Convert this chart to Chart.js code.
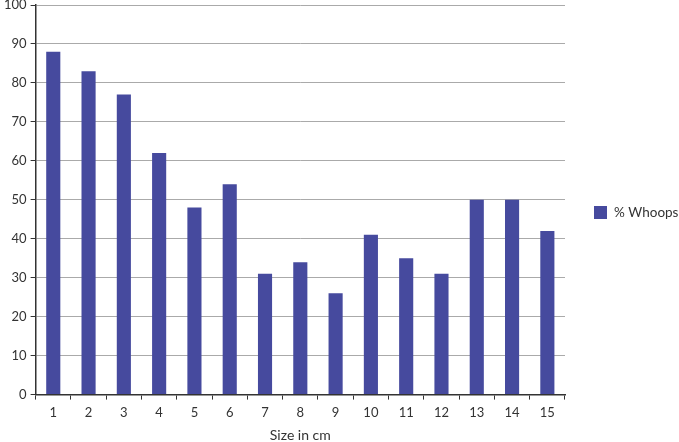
<!DOCTYPE html>
<html>
<head>
<meta charset="utf-8">
<script src="https://cdn.jsdelivr.net/npm/chart.js@4/dist/chart.umd.min.js"></script>
<style>
  html, body { margin: 0; padding: 0; background: #fff; }
  #wrap { width: 679px; height: 442px; }
</style>
</head>
<body>
<div id="wrap"><canvas id="myChart" width="679" height="442"></canvas></div>
<script>
'use strict';

var sizes = ['1', '2', '3', '4', '5', '6', '7', '8', '9', '10', '11', '12', '13', '14', '15'];
var whoops = [88, 83, 77, 62, 48, 54, 31, 34, 26, 41, 35, 31, 50, 50, 42];
var seriesName = '% Whoops';
var xTitle = 'Size in cm';

var ctx = document.getElementById('myChart');
var fontFamily = 'Lato, "Open Sans", sans-serif';
var font = { family: fontFamily, size: 13 };

// legend drawn by hand so it sits where the original has it
var sideLegend = {
  id: 'sideLegend',
  afterDraw: function (chart) {
    var c = chart.ctx;
    var ds = chart.data.datasets[0];
    var x = chart.chartArea.right + 29;
    var y = 212;
    c.save();
    c.fillStyle = ds.backgroundColor;
    c.fillRect(x, y - 6, 13, 13);
    c.fillStyle = '#333';
    c.font = '13.5px ' + fontFamily;
    c.textBaseline = 'middle';
    c.fillText(ds.label, x + 20, y + 1);
    c.restore();
  }
};

var myChart = new Chart(ctx, {
  type: 'bar',
  data: {
    labels: sizes,
    datasets: [{
      label: seriesName,
      data: whoops,
      backgroundColor: '#464a9e',
      barPercentage: 0.4,
      categoryPercentage: 1.0
    }]
  },
  options: {
    responsive: false,
    animation: false,
    layout: { padding: { top: 0, right: 114, left: 0, bottom: -2 } },
    plugins: {
      legend: { display: false },
      tooltip: { enabled: false }
    },
    scales: {
      x: {
        grid: { offset: true, drawOnChartArea: false, tickLength: 5, tickColor: '#333' },
        border: { color: '#333', width: 1.5 },
        ticks: { color: '#333', font: font, padding: 5 },
        title: { display: true, text: xTitle, color: '#333', font: { family: fontFamily, size: 14 }, padding: { top: 2, bottom: 0 } }
      },
      y: {
        min: 0, max: 100,
        grid: { color: '#aaa', tickLength: 5, tickColor: '#333' },
        border: { color: '#333', width: 1.5 },
        ticks: { stepSize: 10, color: '#333', font: font, padding: 4 },
        afterFit: function (scale) { scale.paddingTop = 5; }
      }
    }
  },
  plugins: [sideLegend]
});
</script>
</body>
</html>
